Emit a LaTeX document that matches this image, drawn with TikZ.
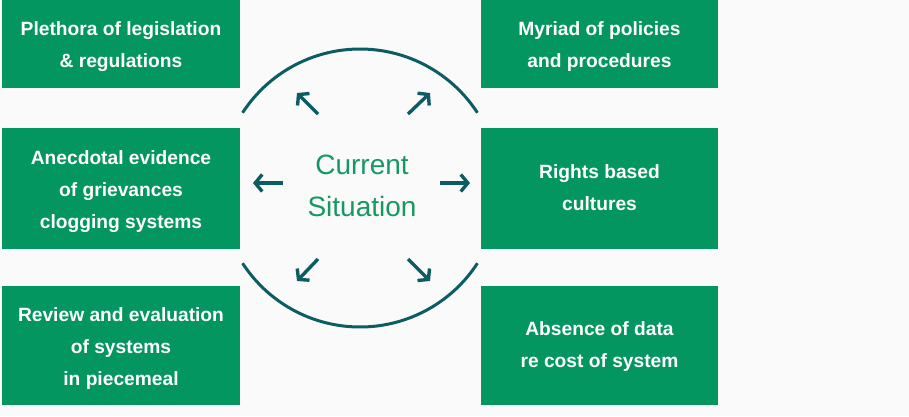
\documentclass[tikz,border=0pt]{standalone}
\usepackage{fontspec}
\setmainfont{Liberation Sans}
\usetikzlibrary{arrows.meta}
\definecolor{boxgreen}{RGB}{3,150,96}
\definecolor{txtgreen}{RGB}{22,152,100}
\definecolor{teal}{RGB}{12,92,100}
\definecolor{bg}{RGB}{250,250,250}
\tikzset{
  greenbox/.style={fill=boxgreen, draw=none, inner sep=0pt},
  boxtext/.style={text=white, align=center, inner sep=0pt,
    font=\bfseries\fontsize{19.2}{32}\selectfont},
  ray/.style={draw=teal, line width=3.4pt,
    -{Straight Barb[length=7pt,width=17pt,line width=3.4pt]}},
  arcline/.style={draw=teal, line width=3pt}
}
\begin{document}
\begin{tikzpicture}[x=1pt,y=-1pt]
\fill[bg] (0,0) rectangle (909,416);
\useasboundingbox (0,0) rectangle (909,416);
% boxes
\node[greenbox, minimum width=238pt, minimum height=88pt] (b1) at (121,44) {};
\node[greenbox, minimum width=238pt, minimum height=121pt] (b2) at (121,188.5) {};
\node[greenbox, minimum width=238pt, minimum height=119pt] (b3) at (121,345.5) {};
\node[greenbox, minimum width=237pt, minimum height=88pt] (b4) at (599.5,44) {};
\node[greenbox, minimum width=237pt, minimum height=121pt] (b5) at (599.5,188.5) {};
\node[greenbox, minimum width=237pt, minimum height=119pt] (b6) at (599.5,345.5) {};
\node[boxtext] (t1) at ([yshift=-3pt]b1.center) {Plethora of legislation\\\& regulations};
\node[boxtext] (t2) at ([yshift=-3pt]b2.center) {Anecdotal evidence\\of grievances\\clogging systems};
\node[boxtext] (t3) at ([yshift=-3pt]b3.center) {Review and evaluation\\of systems\\in piecemeal};
\node[boxtext] (t4) at ([yshift=-3pt]b4.center) {Myriad of policies\\and procedures};
\node[boxtext] (t5) at ([yshift=1pt]b5.center) {Rights based\\cultures};
\node[boxtext] (t6) at ([yshift=-1pt]b6.center) {Absence of data\\re cost of system};
% centre
\node[text=txtgreen, align=center, inner sep=0pt, font=\fontsize{28}{42}\selectfont] (c) at (362,186) {Current\\Situation};
% arcs
\draw[arcline] (360,187) ++(147:140) arc[start angle=147, end angle=33, radius=140];
\draw[arcline] (360,189) ++(213:140) arc[start angle=213, end angle=327, radius=140];
% arrows
\coordinate (s1) at (318,114); \coordinate (e1) at (297,93);
\coordinate (s2) at (408,114); \coordinate (e2) at (430,93);
\coordinate (s3) at (318,259); \coordinate (e3) at (297,281);
\coordinate (s4) at (408,259); \coordinate (e4) at (430,281);
\coordinate (s5) at (283,183); \coordinate (e5) at (253,183);
\coordinate (s6) at (440,183); \coordinate (e6) at (470,183);
\foreach \i in {1,...,6} \draw[ray] (s\i) -- (e\i);
\end{tikzpicture}
\end{document}
